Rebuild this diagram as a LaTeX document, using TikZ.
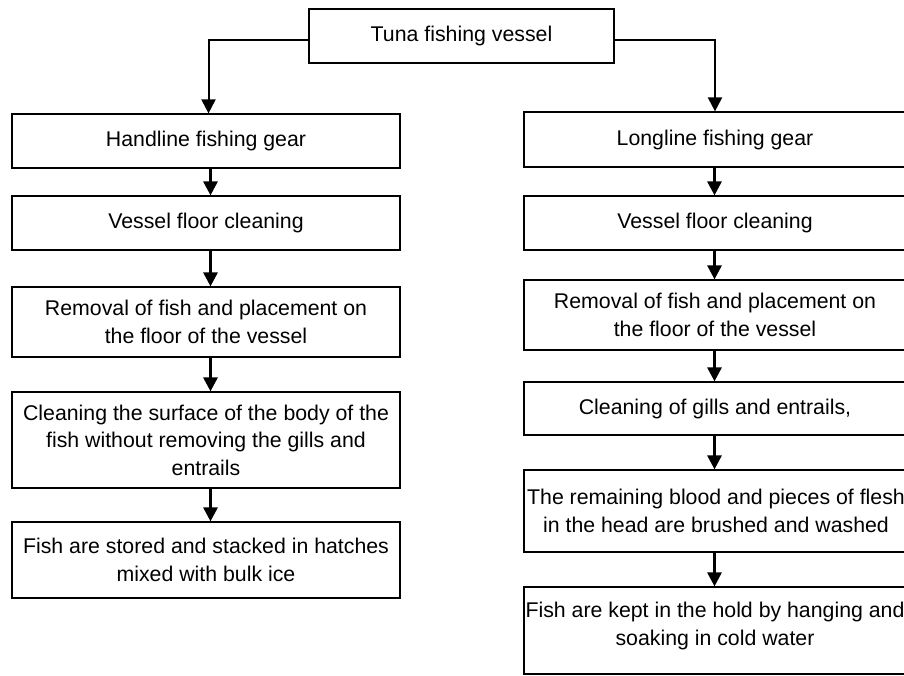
\documentclass[tikz,border=0pt]{standalone}
\usepackage{fontspec}
\setmainfont{Liberation Sans}
\usetikzlibrary{arrows.meta}
\begin{document}
\begin{tikzpicture}[x=1pt,y=-1pt,
  box/.style={draw, line width=1.2pt, inner sep=0pt, align=center,
    font=\fontsize{21.3}{27.5}\selectfont},
  lbox/.style={box, minimum width=388pt},
  rbox/.style={box, minimum width=382pt},
  txt/.style={inner sep=0pt, align=center, font=\fontsize{21.3}{27.5}\selectfont},
  conn/.style={line width=2pt, -{Triangle[length=14pt,width=14pt]}},
  flow/.style={line width=2.8pt, -{Triangle[length=14pt,width=14pt]}}]
\useasboundingbox (0,0) rectangle (904,675);
\clip (0,0) rectangle (904,675);

\node[box, minimum width=305pt, minimum height=54pt] (top) at (461.5,36) {Tuna fishing vessel};

% left column
\node[lbox, minimum height=54pt] (L1) at (206,141) {Handline fishing gear};
\node[lbox, minimum height=54pt] (L2) at (206,223) {Vessel floor cleaning};
\node[lbox, minimum height=70pt] (L3) at (206,322) {Removal of fish and placement on\\the floor of the vessel};
\node[lbox, minimum height=96pt] (L4) at (206,440) {Cleaning the surface of the body of the\\fish without removing the gills and\\entrails};
\node[lbox, minimum height=76pt] (L5) at (206,560) {Fish are stored and stacked in hatches\\mixed with bulk ice};

% right column
\node[rbox, minimum height=55pt] (R1) at (715,139.5) {Longline fishing gear};
\node[rbox, minimum height=54pt] (R2) at (715,223) {Vessel floor cleaning};
\node[rbox, minimum height=70pt] (R3) at (715,315) {Removal of fish and placement on\\the floor of the vessel};
\node[rbox, minimum height=53pt] (R4) at (715,408.5) {Cleaning of gills and entrails,};
\node[rbox, minimum height=82pt] (R5) at (715,511) {};
\node[txt] (R5t) at ([xshift=1pt]R5.center) {The remaining blood and pieces of flesh\\in the head are brushed and washed};
\node[rbox, minimum height=87pt] (R6) at (715,630.5) {};
\node[txt] (R6t) at ([yshift=4.5pt]R6.center) {Fish are kept in the hold by hanging and\\soaking in cold water};

% connectors from top
\draw[conn] ([yshift=-4pt]top.west) -| ([xshift=2.5pt]L1.north);
\draw[conn] ([yshift=-4pt]top.east) -| (R1.north);

% left flow
\foreach \a/\b in {L1/L2,L2/L3,L3/L4,L4/L5}
  \draw[flow] ([xshift=4.5pt]\a.south) -- ([xshift=4.5pt]\b.north);

% right flow
\foreach \a/\b in {R1/R2,R2/R3,R3/R4,R4/R5,R5/R6}
  \draw[flow] ([xshift=-0.5pt]\a.south) -- ([xshift=-0.5pt]\b.north);
\end{tikzpicture}
\end{document}
